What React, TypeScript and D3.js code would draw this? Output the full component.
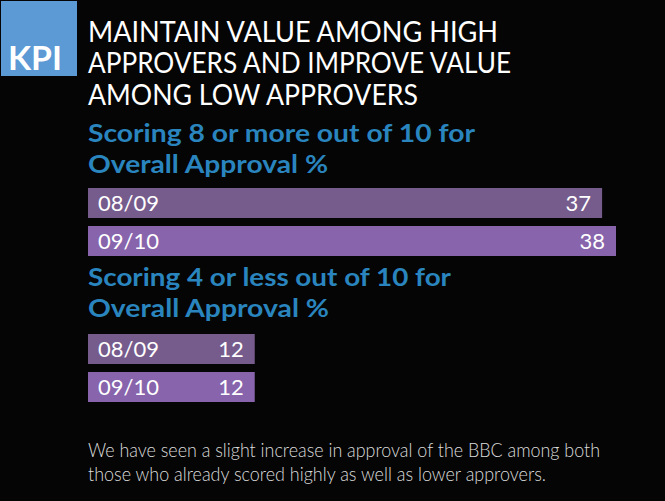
import React from "react";
import * as d3 from "d3";

const titleLines = ["MAINTAIN VALUE AMONG HIGH", "APPROVERS AND IMPROVE VALUE", "AMONG LOW APPROVERS"];
const years = ["08/09", "09/10"];
const highApprovers = [37, 38];
const lowApprovers = [12, 12];
const groupTitles = [
  ["Scoring 8 or more out of 10 for", "Overall Approval %"],
  ["Scoring 4 or less out of 10 for", "Overall Approval %"],
];
const footerLines = [
  "We have seen a slight increase in approval of the BBC among both",
  "those who already scored highly as well as lower approvers.",
];

const W = 665;
const H = 501;
const FONT = "Lato, 'Open Sans', sans-serif";
const barColors = ["#765c8c", "#8764ac"];

export default function App() {
  const x = d3.scaleLinear().domain([0, 38]).range([88, 616]);
  const groups = [
    { values: highApprovers, top: 188, titleY: [142, 173], titleLen: [387, 240] },
    { values: lowApprovers, top: 334, titleY: [286, 317], titleLen: [363, 241] },
  ];
  const titleLens = [410, 423, 330];
  const titleYs = [42, 73, 105];
  const footerLens = [512, 458];
  const footerYs = [457, 481];

  return (
    <div style={{ position: "fixed", left: 0, top: 0, width: W, height: H }}>
      <svg width={W} height={H} style={{ display: "block" }}>
        <rect x={0} y={0} width={W} height={H} fill="#050505" />
        <rect x={1} y={1} width={76} height={75} fill="#5b9ad5" />
        <text x={8} y={70} fill="#ffffff" fontFamily={FONT} fontWeight={700} fontSize={32}
          textLength={54} lengthAdjust="spacingAndGlyphs">KPI</text>
        {titleLines.map((t, i) => (
          <text key={t} x={88} y={titleYs[i]} fill="#ffffff" fontFamily={FONT} fontWeight={400}
            fontSize={28} textLength={titleLens[i]} lengthAdjust="spacingAndGlyphs">{t}</text>
        ))}
        {groups.map((g, gi) => {
          const y = d3.scaleBand<string>().domain(years).range([g.top, g.top + 68]).paddingInner(0.21);
          return (
            <g key={gi}>
              {groupTitles[gi].map((t, i) => (
                <text key={i} x={88} y={g.titleY[i]} fill="#2a85bf" fontFamily={FONT} fontWeight={700}
                  fontSize={25} textLength={g.titleLen[i]} lengthAdjust="spacingAndGlyphs">{t}</text>
              ))}
              {years.map((yr, i) => {
                const y0 = y(yr) as number;
                const bw = y.bandwidth();
                const x1 = x(g.values[i]);
                return (
                  <g key={yr}>
                    <rect x={x(0)} y={y0} width={x1 - x(0)} height={bw} fill={barColors[i]} />
                    <text x={x(0) + 10} y={y0 + 23} fill="#ffffff" fontFamily={FONT} fontSize={22}>{yr}</text>
                    <text x={x1 - 11} y={y0 + 23} fill="#ffffff" fontFamily={FONT} fontSize={22}
                      textAnchor="end">{g.values[i]}</text>
                  </g>
                );
              })}
            </g>
          );
        })}
        {footerLines.map((t, i) => (
          <text key={i} x={88} y={footerYs[i]} fill="#dcdcdc" fontFamily={FONT} fontWeight={300}
            fontSize={19} textLength={footerLens[i]} lengthAdjust="spacingAndGlyphs">{t}</text>
        ))}
      </svg>
    </div>
  );
}
